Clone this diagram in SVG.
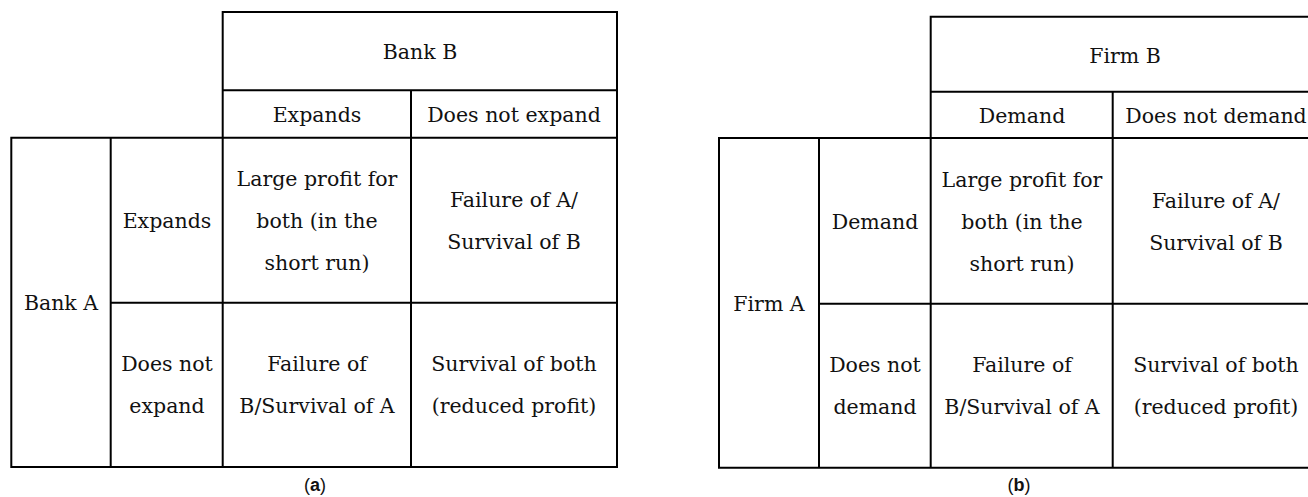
<svg xmlns="http://www.w3.org/2000/svg" width="1308" height="497" viewBox="0 0 1308 497">
<style>
.g{fill:none;stroke:#000;stroke-width:2;stroke-linecap:square}
.t{font-family:"DejaVu Serif","Liberation Serif",serif;font-size:20.5px;fill:#111;text-anchor:middle}
.c{font-family:"Liberation Sans","Noto Sans",sans-serif;font-size:18px;fill:#111;text-anchor:middle}
</style>
<rect width="1308" height="497" fill="#fff"/>
<g id="grid-a">
<path class="g" d="M222.7,12H617V467H11.3V137.7H617M222.7,90.3H617M110.7,302.7H617M222.7,12V467M110.7,137.7V467M411,90.3V467"/>
</g>
<g id="table-a">
<g id="a-bankB"><text class="t" x="420" y="59">Bank B</text></g>
<g id="a-colExpands"><text class="t" x="317" y="122">Expands</text></g>
<g id="a-colNot"><text class="t" x="514" y="122">Does not expand</text></g>
<g id="a-bankA"><text class="t" x="61" y="310">Bank A</text></g>
<g id="a-rowExpands"><text class="t" x="167" y="227.5">Expands</text></g>
<g id="a-rowNot"><text class="t" x="167" y="371"><tspan x="167">Does not</tspan><tspan x="167" dy="42">expand</tspan></text></g>
<g id="a-c11"><text class="t" x="317" y="186"><tspan x="317">Large profit for</tspan><tspan x="317" dy="42">both (in the</tspan><tspan x="317" dy="42">short run)</tspan></text></g>
<g id="a-c12"><text class="t" x="514" y="206.5"><tspan x="514">Failure of A/</tspan><tspan x="514" dy="42">Survival of B</tspan></text></g>
<g id="a-c21"><text class="t" x="317" y="371"><tspan x="317">Failure of</tspan><tspan x="317" dy="42">B/Survival of A</tspan></text></g>
<g id="a-c22"><text class="t" x="514" y="371"><tspan x="514">Survival of both</tspan><tspan x="514" dy="42">(reduced profit)</tspan></text></g>
<g id="a-caption"><text class="c" x="315" y="491">(<tspan font-weight="bold">a</tspan>)</text></g>
</g>
<g id="grid-b">
<path class="g" d="M930.7,16.7H1319V467.7H719V138H1319M930.7,91.7H1319M819,303.7H1319M930.7,16.7V467.7M819,138V467.7M1112.7,91.7V467.7"/>
</g>
<g id="table-b">
<g id="b-firmB"><text class="t" x="1125" y="62.5">Firm B</text></g>
<g id="b-colDemand"><text class="t" x="1022" y="122.5">Demand</text></g>
<g id="b-colNot"><text class="t" x="1216" y="122.5">Does not demand</text></g>
<g id="b-firmA"><text class="t" x="769" y="311">Firm A</text></g>
<g id="b-rowDemand"><text class="t" x="875" y="228.5">Demand</text></g>
<g id="b-rowNot"><text class="t" x="875" y="372"><tspan x="875">Does not</tspan><tspan x="875" dy="42">demand</tspan></text></g>
<g id="b-c11"><text class="t" x="1022" y="187"><tspan x="1022">Large profit for</tspan><tspan x="1022" dy="42">both (in the</tspan><tspan x="1022" dy="42">short run)</tspan></text></g>
<g id="b-c12"><text class="t" x="1216" y="207.5"><tspan x="1216">Failure of A/</tspan><tspan x="1216" dy="42">Survival of B</tspan></text></g>
<g id="b-c21"><text class="t" x="1022" y="372"><tspan x="1022">Failure of</tspan><tspan x="1022" dy="42">B/Survival of A</tspan></text></g>
<g id="b-c22"><text class="t" x="1216" y="372"><tspan x="1216">Survival of both</tspan><tspan x="1216" dy="42">(reduced profit)</tspan></text></g>
<g id="b-caption"><text class="c" x="1019" y="491">(<tspan font-weight="bold">b</tspan>)</text></g>
</g>
</svg>
